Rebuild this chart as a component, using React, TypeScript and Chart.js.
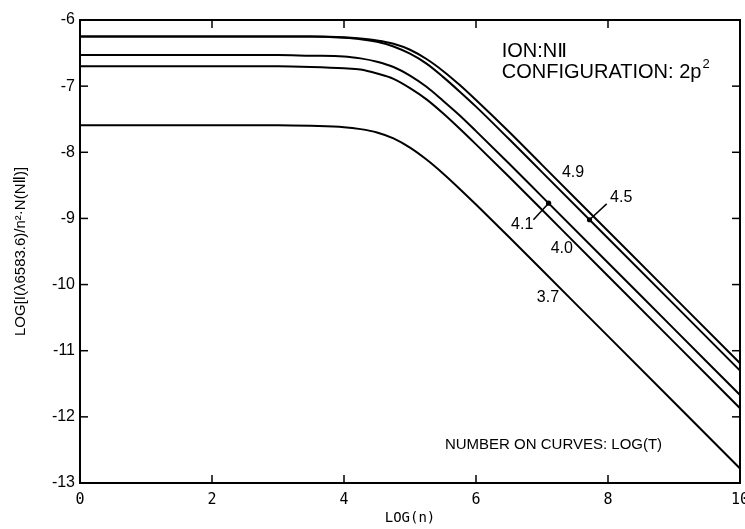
import React, { useEffect, useRef } from 'react';
import { Chart, registerables } from 'chart.js';

Chart.register(...registerables);

// ---- data ----
const logN = [0, 1, 2, 3, 3.5, 4, 4.25, 4.5, 4.75, 5, 5.25, 5.5, 5.75, 6, 6.5, 7, 8, 9, 10];
const curve49 = [-6.25, -6.25, -6.25, -6.25, -6.25, -6.26, -6.28, -6.31, -6.36, -6.45, -6.59, -6.77, -6.98, -7.21, -7.69, -8.19, -9.19, -10.19, -11.19];
const curve45 = [-6.25, -6.25, -6.25, -6.25, -6.25, -6.27, -6.29, -6.33, -6.4, -6.51, -6.66, -6.86, -7.08, -7.31, -7.8, -8.3, -9.3, -10.3, -11.3];
const curve41 = [-6.53, -6.53, -6.53, -6.53, -6.54, -6.55, -6.58, -6.63, -6.71, -6.84, -7.01, -7.22, -7.44, -7.68, -8.17, -8.67, -9.67, -10.67, -11.67];
const curve40 = [-6.7, -6.7, -6.7, -6.7, -6.71, -6.73, -6.75, -6.81, -6.89, -7.03, -7.2, -7.41, -7.64, -7.88, -8.37, -8.87, -9.87, -10.87, -11.87];
const curve37 = [-7.59, -7.59, -7.59, -7.59, -7.6, -7.62, -7.65, -7.7, -7.79, -7.93, -8.11, -8.32, -8.55, -8.79, -9.28, -9.78, -10.78, -11.78, -12.78];

const curveNames = ['4.9', '4.5', '4.1', '4.0', '3.7'];
const curveValues = [curve49, curve45, curve41, curve40, curve37];

const xTicks = [0, 2, 4, 6, 8, 10];
const yTicks = [-6, -7, -8, -9, -10, -11, -12, -13];

// curve label positions (data units)
const labelX = [7.47, 8.2, 6.7, 7.3, 7.09];
const labelY = [-8.3, -8.68, -9.1, -9.46, -10.19];
// arrows: [curve index, start x, start y, target x on curve]
const arrowCurve = [1, 2];
const arrowStartX = [7.98, 6.87];
const arrowStartY = [-8.78, -9.02];
const arrowTargetX = [7.72, 7.1];

const xTitle = 'LOG(n)';
const yTitle = 'LOG[I(\u03bb6583.6)/n\u00b2\u00b7N(N\u2161)]';
const ionText = 'ION:N\u2161';
const configText = 'CONFIGURATION: 2p';
const configSup = '2';
const noteText = 'NUMBER ON CURVES: LOG(T)';

const SANS = '"Liberation Sans", Arial, "DejaVu Sans", sans-serif';
const MONO = '"DejaVu Sans Mono", "Liberation Mono", monospace';

function curveAt(values: number[], xv: number): number {
  for (let i = 0; i < logN.length - 1; i++) {
    if (xv >= logN[i] && xv <= logN[i + 1]) {
      const t = (xv - logN[i]) / (logN[i + 1] - logN[i]);
      return values[i] + t * (values[i + 1] - values[i]);
    }
  }
  return values[values.length - 1];
}

const framePlugin = {
  id: 'framePlugin',
  afterDatasetsDraw(chart: any) {
    const { ctx, chartArea: a, scales } = chart;
    const xs = scales.x;
    const ys = scales.y;
    ctx.save();
    ctx.strokeStyle = '#000';
    ctx.fillStyle = '#000';
    ctx.lineWidth = 2;
    ctx.strokeRect(a.left, a.top, a.right - a.left, a.bottom - a.top);

    ctx.lineWidth = 1.5;
    const seg = (x1: number, y1: number, x2: number, y2: number) => {
      ctx.beginPath();
      ctx.moveTo(x1, y1);
      ctx.lineTo(x2, y2);
      ctx.stroke();
    };
    xTicks.slice(1, -1).forEach((v) => {
      const px = xs.getPixelForValue(v);
      seg(px, a.bottom, px, a.bottom - 8);
      seg(px, a.top, px, a.top + 8);
    });
    yTicks.slice(1, -1).forEach((v) => {
      const py = ys.getPixelForValue(v);
      seg(a.left, py, a.left + 8, py);
      seg(a.right, py, a.right - 8, py);
    });

    // curve labels
    ctx.font = '16px ' + SANS;
    ctx.textAlign = 'center';
    ctx.textBaseline = 'middle';
    curveNames.forEach((n, i) => {
      ctx.fillText(n, xs.getPixelForValue(labelX[i]), ys.getPixelForValue(labelY[i]));
    });

    // arrows
    ctx.lineWidth = 1.5;
    arrowCurve.forEach((ci, k) => {
      const tx = arrowTargetX[k];
      const ty = curveAt(curveValues[ci], tx);
      const x1 = xs.getPixelForValue(arrowStartX[k]);
      const y1 = ys.getPixelForValue(arrowStartY[k]);
      const x2 = xs.getPixelForValue(tx);
      const y2 = ys.getPixelForValue(ty);
      seg(x1, y1, x2, y2);
      ctx.beginPath();
      ctx.arc(x2, y2, 2.6, 0, Math.PI * 2);
      ctx.fill();
    });

    // annotation text
    ctx.textAlign = 'left';
    ctx.font = '20px ' + SANS;
    const ax = xs.getPixelForValue(6.39);
    ctx.fillText(ionText, ax, ys.getPixelForValue(-6.48));
    const cy = ys.getPixelForValue(-6.8);
    ctx.fillText(configText, ax, cy);
    const w = ctx.measureText(configText).width;
    ctx.font = '13px ' + SANS;
    ctx.fillText(configSup, ax + w + 1, cy - 8);

    ctx.font = '15px ' + SANS;
    ctx.textAlign = 'right';
    ctx.fillText(noteText, xs.getPixelForValue(8.82), ys.getPixelForValue(-12.43));
    ctx.restore();
  },
};

export default function App() {
  const ref = useRef<HTMLCanvasElement | null>(null);
  useEffect(() => {
    const canvas = ref.current;
    if (!canvas) return;
    const chart = new Chart(canvas, {
      type: 'line',
      data: {
        datasets: curveNames.map((name, i) => ({
          label: name,
          data: logN.map((xv, j) => ({ x: xv, y: curveValues[i][j] })),
          borderColor: '#000',
          borderWidth: 2,
          pointRadius: 0,
          fill: false,
          cubicInterpolationMode: 'monotone' as const,
        })),
      },
      options: {
        responsive: false,
        animation: false,
        devicePixelRatio: 1,
        layout: { padding: { top: 20, right: 5, left: 0, bottom: 0 } },
        plugins: { legend: { display: false }, tooltip: { enabled: false } },
        scales: {
          x: {
            type: 'linear',
            min: 0,
            max: 10,
            afterBuildTicks: (s: any) => {
              s.ticks = xTicks.map((v) => ({ value: v }));
            },
            afterFit: (s: any) => {
              s.height = 46;
              s.paddingLeft = 0;
              s.paddingRight = 0;
            },
            grid: { display: false, drawTicks: false },
            border: { display: false },
            ticks: {
              color: '#000',
              font: { family: MONO, size: 15 },
              padding: 8,
              maxRotation: 0,
              autoSkip: false,
              callback: (v: any) => String(v),
            },
            title: {
              display: true,
              text: xTitle,
              color: '#000',
              font: { family: MONO, size: 14 },
              padding: { top: 0, bottom: 2 },
            },
          },
          y: {
            type: 'linear',
            min: -13,
            max: -6,
            afterBuildTicks: (s: any) => {
              s.ticks = yTicks.map((v) => ({ value: v }));
            },
            afterFit: (s: any) => {
              s.width = 80;
              s.paddingTop = 0;
              s.paddingBottom = 0;
            },
            grid: { display: false, drawTicks: false },
            border: { display: false },
            ticks: {
              color: '#000',
              font: { family: SANS, size: 16 },
              padding: 5,
              autoSkip: false,
              callback: (v: any) => String(v),
            },
            title: {
              display: true,
              text: yTitle,
              color: '#000',
              font: { family: SANS, size: 15 },
              padding: { top: 12, bottom: 0 },
            },
          },
        },
      },
      plugins: [framePlugin],
    } as any);
    return () => chart.destroy();
  }, []);
  return (
    <div style={{ position: 'fixed', left: 0, top: 0, width: 745, height: 529, background: '#fff' }}>
      <canvas ref={ref} width={745} height={529} style={{ display: 'block', width: 745, height: 529 }} />
    </div>
  );
}
